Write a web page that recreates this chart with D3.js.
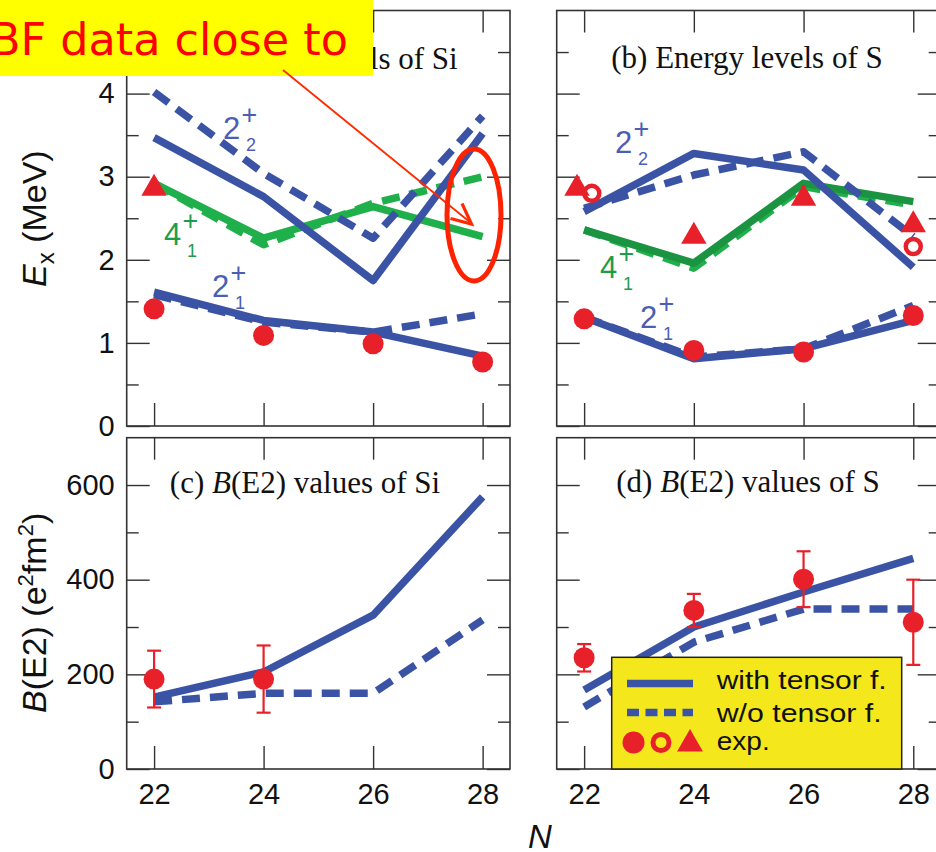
<!DOCTYPE html>
<html><head><meta charset="utf-8">
<script src="https://cdn.jsdelivr.net/npm/d3@7"></script>
<style>body{margin:0;background:#fff} svg{display:block}</style>
</head><body><svg id="c" width="936" height="852"></svg>
<script>
// ---------- data ----------
const N = [22, 24, 26, 28];
const xTicks = [22, 24, 26, 28];
const eTicks = [0, 1, 2, 3, 4];
const eMinor = [0.5, 1.5, 2.5, 3.5, 4.5];
const bTicks = [0, 200, 400, 600];
const bMinor = [100, 300, 500];

// Si energy levels (MeV)
const si21With = [1.61, 1.27, 1.13, 0.84];
const si21Without = [1.58, 1.25, 1.13, 1.35];
const si22With = [3.47, 2.76, 1.75, 3.52];
const si22Without = [4.02, 3.04, 2.26, 3.73];
const si41With = [2.92, 2.26, 2.64, 2.28];
const si41Without = [2.92, 2.18, 2.68, 3.00];
const siExp21 = [1.41, 1.09, 0.99, 0.77];
const siExp41N = [22];
const siExp41 = [2.86];

// S energy levels (MeV)
const s21With = [1.31, 0.81, 0.93, 1.27];
const s21Without = [1.31, 0.83, 0.93, 1.45];
const s22With = [2.58, 3.28, 3.08, 1.91];
const s22Without = [2.62, 3.02, 3.30, 2.28];
const s41With = [2.36, 1.96, 2.92, 2.70];
const s41Without = [2.36, 1.90, 2.88, 2.66];
const sExp21 = [1.29, 0.91, 0.89, 1.33];
const sExp41N = [21.87, 24, 26, 28];
const sExp41 = [2.86, 2.28, 2.74, 2.42];
const sExp22N = [22.14, 28];
const sExp22 = [2.80, 2.16];

// B(E2) values (e^2 fm^2)
const siBE2With = [152, 205, 325, 575];
const siBE2Without = [142, 160, 160, 315];
const siBE2ExpN = [22, 24];
const siBE2Exp = [190, 190];
const siBE2Err = [60, 71];
const sBE2With = [167, 300, 374, 445];
const sBE2Without = [131, 268, 338, 338];
const sBE2Exp = [235, 335, 401, 310];
const sBE2Err = [29, 35, 59, 90];

const legendLabels = ["with tensor f.", "w/o tensor f.", "exp."];
const titles = ["Energy levels of Si", "Energy levels of S", "values of Si", "values of S"];

// ---------- style ----------
const BLUE = "#3a53a4", GREEN_S = "#1a9441", GREEN_D = "#20b04b", RED = "#e8202a";
const LBLUE = "#4a5fb3", LGREEN = "#1f9c4a";
const FRAME = "#333";
const SANS = "'Liberation Sans', Arial, Helvetica, sans-serif";
const SERIF = "'Liberation Serif', 'Times New Roman', serif";

const svg = d3.select("#c");

const xL = d3.scaleLinear([21.5, 28.5], [126.7, 510]);
const xR = d3.scaleLinear([21.5, 28.5], [556.7, 940.7]);
const yE = d3.scaleLinear([0, 5], [426, 10.5]);
const yB = d3.scaleLinear([0, 700], [769, 437.7]);

function frame(xs, ys, major, minor, showY, showX) {
  const g = svg.append("g");
  const [x0, x1] = xs.range();
  const [y1, y0] = ys.range();
  const style = a => {
    a.select(".domain").remove();
    a.selectAll("line").attr("stroke", FRAME).attr("stroke-width", 1.4);
    a.selectAll("text").attr("font-family", SANS).attr("font-size", 29).attr("fill", "#111");
  };
  g.append("g").attr("transform", `translate(${x0},0)`)
    .call(d3.axisLeft(ys).tickValues(major).tickSizeInner(-23).tickSizeOuter(0).tickPadding(12)
      .tickFormat(showY ? d3.format("d") : () => "")).call(style);
  g.append("g").attr("transform", `translate(${x0},0)`)
    .call(d3.axisLeft(ys).tickValues(minor).tickSize(-12).tickFormat(() => "")).call(style);
  g.append("g").attr("transform", `translate(${x1},0)`)
    .call(d3.axisRight(ys).tickValues(major).tickSize(-23).tickFormat(() => "")).call(style);
  g.append("g").attr("transform", `translate(${x1},0)`)
    .call(d3.axisRight(ys).tickValues(minor).tickSize(-12).tickFormat(() => "")).call(style);
  g.append("g").attr("transform", `translate(0,${y1})`)
    .call(d3.axisBottom(xs).tickValues(xTicks).tickSizeInner(-23).tickSizeOuter(0).tickPadding(14)
      .tickFormat(showX ? d3.format("d") : () => "")).call(style);
  g.append("g").attr("transform", `translate(0,${y0})`)
    .call(d3.axisTop(xs).tickValues(xTicks).tickSize(-22).tickFormat(() => "")).call(style);
  g.append("rect").attr("x", x0).attr("y", y0).attr("width", x1 - x0).attr("height", y1 - y0)
    .attr("fill", "none").attr("stroke", FRAME).attr("stroke-width", 1.6);
}

function series(xs, ys, vals, color, dashed, xsVals) {
  const xv = xsVals || N;
  const line = d3.line().x((d, i) => xs(xv[i])).y(d => ys(d));
  svg.append("path").attr("d", line(vals)).attr("fill", "none")
    .attr("stroke", color).attr("stroke-width", 7.5)
    .attr("stroke-linejoin", "round")
    .attr("stroke-dasharray", dashed ? "18 10" : null);
}

function dots(xs, ys, nv, vals, kind) {
  const g = svg.append("g");
  vals.forEach((v, i) => {
    const cx = xs(nv[i]), cy = ys(v);
    if (kind === "circle") g.append("circle").attr("cx", cx).attr("cy", cy).attr("r", 10.5).attr("fill", RED);
    else if (kind === "open") g.append("circle").attr("cx", cx).attr("cy", cy).attr("r", 7.5)
      .attr("fill", "none").attr("stroke", RED).attr("stroke-width", 4.5);
    else g.append("path").attr("d", d3.symbol(d3.symbolTriangle, 280)())
      .attr("transform", `translate(${cx},${cy})`).attr("fill", RED);
  });
}

function errbars(xs, ys, nv, vals, errs) {
  const g = svg.append("g").attr("stroke", RED).attr("stroke-width", 2.2);
  vals.forEach((v, i) => {
    const cx = xs(nv[i]);
    const t = ys(v + errs[i]), b = ys(v - errs[i]);
    g.append("line").attr("x1", cx).attr("x2", cx).attr("y1", t).attr("y2", b);
    g.append("line").attr("x1", cx - 7).attr("x2", cx + 7).attr("y1", t).attr("y2", t);
    g.append("line").attr("x1", cx - 7).attr("x2", cx + 7).attr("y1", b).attr("y2", b);
  });
  dots(xs, ys, nv, vals, "circle");
}

function state(x, y, main, sub, color) {
  const g = svg.append("g").attr("font-family", SANS).attr("fill", color);
  g.append("text").attr("x", x).attr("y", y).attr("font-size", 31).text(main);
  g.append("text").attr("x", x + 18.5).attr("y", y - 15.5).attr("font-size", 27).text("+");
  g.append("text").attr("x", x + 23).attr("y", y + 12).attr("font-size", 18).text(sub);
}

// ---------- frames ----------
frame(xL, yE, eTicks, eMinor, true, false);
frame(xR, yE, eTicks, eMinor, false, false);
frame(xL, yB, bTicks, bMinor, true, true);
frame(xR, yB, bTicks, bMinor, false, true);

// ---------- panel titles ----------
function title(x, y, parts) {
  const t = svg.append("text").attr("x", x).attr("y", y).attr("text-anchor", "middle")
    .attr("font-family", SERIF).attr("font-size", 31).attr("fill", "#111");
  parts.forEach(p => t.append("tspan").attr("font-style", p[1] ? "italic" : null).text(p[0]));
}
title(318.5, 69, [["(a) " + titles[0], false]]);
title(747, 68, [["(b) " + titles[1], false]]);
title(305, 493, [["(c) ", false], ["B", true], ["(E2) " + titles[2], false]]);
title(748, 492, [["(d) ", false], ["B", true], ["(E2) " + titles[3], false]]);

// ---------- panel (a) Si levels ----------
series(xL, yE, si41With, GREEN_D, false);
series(xL, yE, si41Without, GREEN_D, true);
series(xL, yE, si22Without, BLUE, true);
series(xL, yE, si22With, BLUE, false);
series(xL, yE, si21Without, BLUE, true);
series(xL, yE, si21With, BLUE, false);
dots(xL, yE, N, siExp21, "circle");
dots(xL, yE, siExp41N, siExp41, "tri");
state(223, 139, "2", "2", LBLUE);
state(164, 245, "4", "1", LGREEN);
state(212, 297, "2", "1", LBLUE);

// ---------- panel (b) S levels ----------
series(xR, yE, s41Without, GREEN_D, true);
series(xR, yE, s41With, GREEN_S, false);
series(xR, yE, s22Without, BLUE, true);
series(xR, yE, s22With, BLUE, false);
series(xR, yE, s21Without, BLUE, true);
series(xR, yE, s21With, BLUE, false);
dots(xR, yE, N, sExp21, "circle");
dots(xR, yE, sExp41N, sExp41, "tri");
dots(xR, yE, sExp22N, sExp22, "open");
state(615, 153, "2", "2", LBLUE);
state(600, 278, "4", "1", LGREEN);
state(640, 328, "2", "1", LBLUE);

// ---------- panel (c) Si B(E2) ----------
series(xL, yB, siBE2Without, BLUE, true);
series(xL, yB, siBE2With, BLUE, false);
errbars(xL, yB, siBE2ExpN, siBE2Exp, siBE2Err);

// ---------- panel (d) S B(E2) ----------
series(xR, yB, sBE2Without, BLUE, true);
series(xR, yB, sBE2With, BLUE, false);
errbars(xR, yB, N, sBE2Exp, sBE2Err);

// ---------- legend ----------
const lg = svg.append("g");
lg.append("rect").attr("x", 611.7).attr("y", 657.3).attr("width", 290).attr("height", 111.7)
  .attr("fill", "#f4e71b").attr("stroke", "#222").attr("stroke-width", 1.5);
lg.append("line").attr("x1", 627).attr("x2", 693).attr("y1", 683.5).attr("y2", 683.5)
  .attr("stroke", BLUE).attr("stroke-width", 7.5);
lg.append("line").attr("x1", 627).attr("x2", 693).attr("y1", 712.5).attr("y2", 712.5)
  .attr("stroke", BLUE).attr("stroke-width", 7.5).attr("stroke-dasharray", "12 6.5");
lg.append("circle").attr("cx", 633.5).attr("cy", 742.5).attr("r", 11).attr("fill", RED);
lg.append("circle").attr("cx", 661).attr("cy", 742.5).attr("r", 8).attr("fill", "none")
  .attr("stroke", RED).attr("stroke-width", 5);
lg.append("path").attr("d", d3.symbol(d3.symbolTriangle, 290)()).attr("transform", "translate(690,744)").attr("fill", RED);
const lens = [170, 165, 53];
[688.5, 722, 749.5].forEach((y, i) => {
  lg.append("text").attr("x", 716.7).attr("y", y).attr("font-family", SANS).attr("font-size", 25)
    .attr("textLength", lens[i]).attr("lengthAdjust", "spacingAndGlyphs").attr("fill", "#111").text(legendLabels[i]);
});

// ---------- axis titles ----------
const ex = svg.append("text").attr("transform", "translate(46,287) rotate(-90)")
  .attr("font-family", SANS).attr("font-size", 34).attr("fill", "#111");
ex.append("tspan").attr("font-style", "italic").text("E");
ex.append("tspan").attr("font-size", 24).attr("dy", 8).text("x");
ex.append("tspan").attr("dy", -8).text(" (MeV)");

const bl = svg.append("text").attr("transform", "translate(46,713) rotate(-90)")
  .attr("font-family", SANS).attr("font-size", 34).attr("fill", "#111");
bl.append("tspan").attr("font-style", "italic").text("B");
bl.append("tspan").text("(E2) (e");
bl.append("tspan").attr("font-size", 22).attr("dy", -13).text("2");
bl.append("tspan").attr("dy", 13).text("fm");
bl.append("tspan").attr("font-size", 22).attr("dy", -13).text("2");
bl.append("tspan").attr("dy", 13).text(")");

svg.append("text").attr("x", 540).attr("y", 848).attr("text-anchor", "middle")
  .attr("font-family", SANS).attr("font-size", 33).attr("font-style", "italic").attr("fill", "#111").text("N");

// ---------- annotation overlay ----------
svg.append("rect").attr("x", 0).attr("y", 0).attr("width", 373).attr("height", 76).attr("fill", "#ffff00");
svg.append("text").attr("x", 348).attr("y", 55).attr("text-anchor", "end")
  .attr("font-family", "'Comic Sans MS', 'DejaVu Sans', sans-serif").attr("font-size", 44.5)
  .attr("fill", "#ff0000").text("3BF data close to");
const AR = "#ff2a00";
svg.append("line").attr("x1", 283).attr("y1", 70).attr("x2", 471).attr("y2", 223)
  .attr("stroke", AR).attr("stroke-width", 1.8);
svg.append("path").attr("d", "M450.5,218.5 L471.5,224 L462,203.5").attr("fill", "none")
  .attr("stroke", AR).attr("stroke-width", 3.2).attr("stroke-linejoin", "miter");
svg.append("ellipse").attr("cx", 474).attr("cy", 215).attr("rx", 27).attr("ry", 66)
  .attr("fill", "none").attr("stroke", "#ff2200").attr("stroke-width", 5);
</script></body></html>
